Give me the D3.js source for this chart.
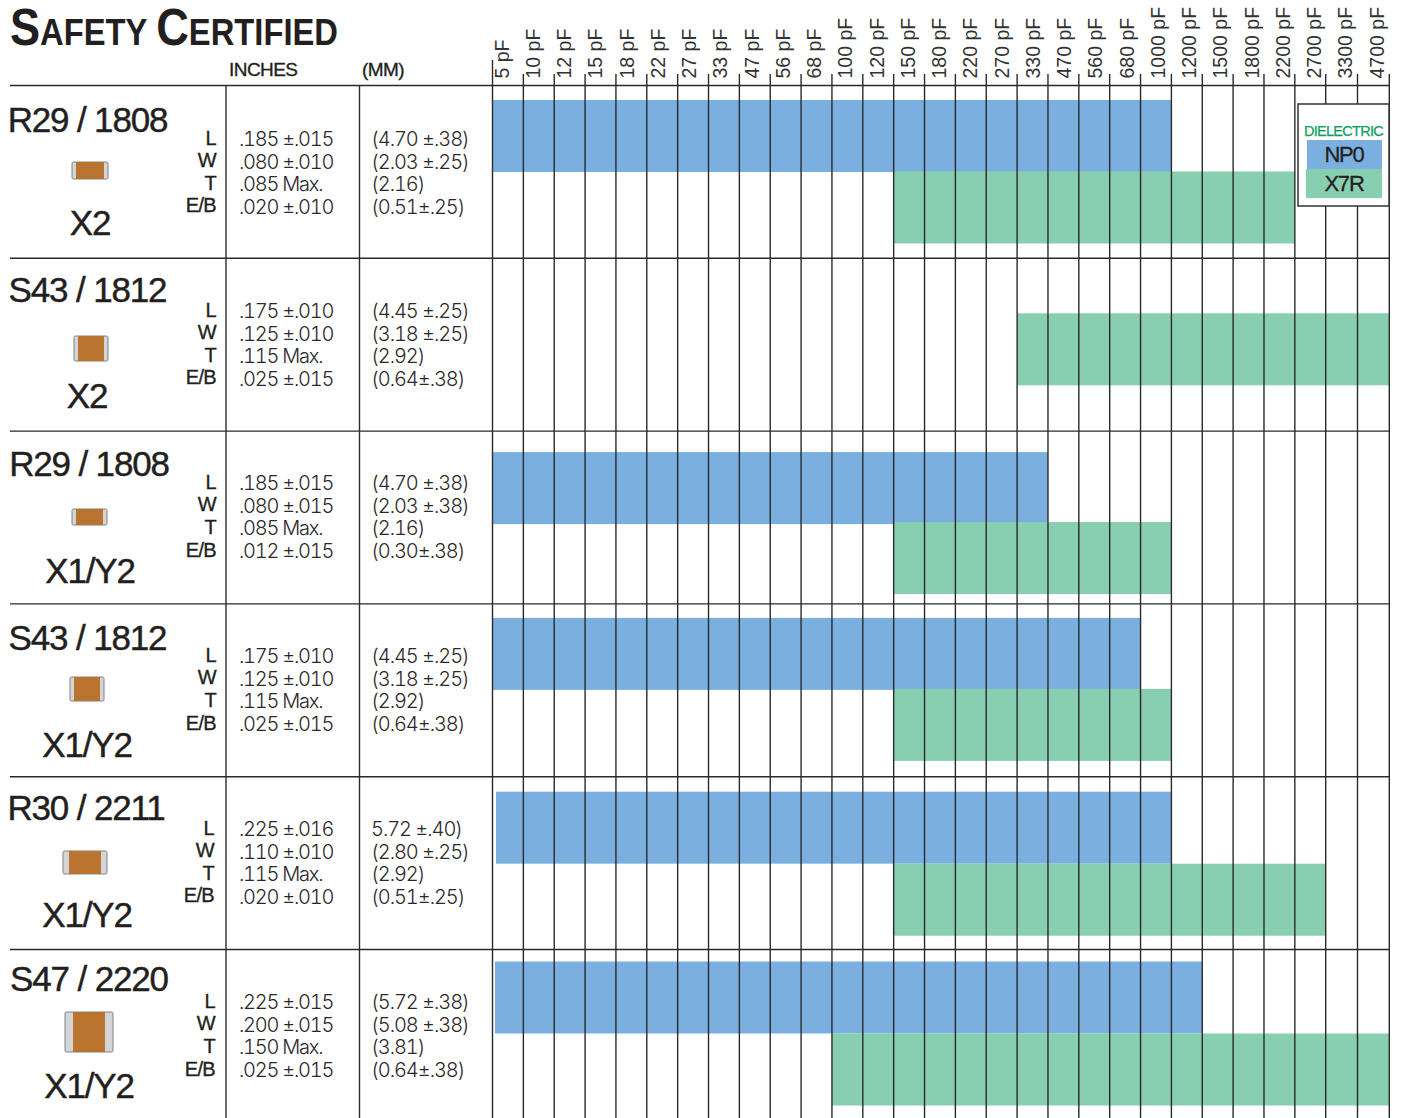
<!DOCTYPE html>
<html>
<head>
<meta charset="utf-8">
<title>Safety Certified</title>
<script src="https://cdn.jsdelivr.net/npm/d3@7"></script>
<style>
  html, body { margin: 0; padding: 0; background: #fff; }
  svg { display: block; }
  text { font-family: "Liberation Sans", Arial, sans-serif; fill: #231f20; }
  .val { font-family: "Inter", "Liberation Sans", sans-serif; font-weight: 300; font-size: 20px; letter-spacing: -1.25px; fill: #2b2829; font-feature-settings: "tnum" 1; }
  .mm { letter-spacing: -1.05px; }
  .dim { font-size: 20px; letter-spacing: -0.7px; text-anchor: end; stroke: #231f20; stroke-width: 0.35px; }
  .big { font-size: 35px; letter-spacing: -1.15px; stroke: #231f20; stroke-width: 0.45px; }
  .head { font-size: 19px; letter-spacing: -0.55px; stroke: #231f20; stroke-width: 0.35px; }
  .rule { stroke: #2a2a2a; stroke-width: 1.4px; }
</style>
</head>
<body>
<div id="chart"></div>
<script>
var categories = ['5 pF', '10 pF', '12 pF', '15 pF', '18 pF', '22 pF', '27 pF', '33 pF', '47 pF', '56 pF',
    '68 pF', '100 pF', '120 pF', '150 pF', '180 pF', '220 pF', '270 pF', '330 pF', '470 pF', '560 pF',
    '680 pF', '1000 pF', '1200 pF', '1500 pF', '1800 pF', '2200 pF', '2700 pF', '3300 pF', '4700 pF'];

var case_sizes = ['R29 / 1808', 'S43 / 1812', 'R29 / 1808', 'S43 / 1812', 'R30 / 2211', 'S47 / 2220'];
var ratings    = ['X2', 'X2', 'X1/Y2', 'X1/Y2', 'X1/Y2', 'X1/Y2'];

// capacitance range per row, [from, to]
var np0_ranges = [['5 pF', '1000 pF'], null, ['5 pF', '330 pF'], ['5 pF', '680 pF'], ['5 pF', '1000 pF'], ['5 pF', '1200 pF']];
var x7r_ranges = [['150 pF', '2200 pF'], ['330 pF', '4700 pF'], ['150 pF', '1000 pF'], ['150 pF', '1000 pF'], ['150 pF', '2700 pF'], ['100 pF', '4700 pF']];

var dim_names = ['L', 'W', 'T', 'E/B'];
var inches = [
    ['.185 ±.015', '.080 ±.010', '.085 Max.', '.020 ±.010'],
    ['.175 ±.010', '.125 ±.010', '.115 Max.', '.025 ±.015'],
    ['.185 ±.015', '.080 ±.015', '.085 Max.', '.012 ±.015'],
    ['.175 ±.010', '.125 ±.010', '.115 Max.', '.025 ±.015'],
    ['.225 ±.016', '.110 ±.010', '.115 Max.', '.020 ±.010'],
    ['.225 ±.015', '.200 ±.015', '.150 Max.', '.025 ±.015']
];
var millimetres = [
    ['(4.70 ±.38)', '(2.03 ±.25)', '(2.16)', '(0.51±.25)'],
    ['(4.45 ±.25)', '(3.18 ±.25)', '(2.92)', '(0.64±.38)'],
    ['(4.70 ±.38)', '(2.03 ±.38)', '(2.16)', '(0.30±.38)'],
    ['(4.45 ±.25)', '(3.18 ±.25)', '(2.92)', '(0.64±.38)'],
    ['5.72 ±.40)', '(2.80 ±.25)', '(2.92)', '(0.51±.25)'],
    ['(5.72 ±.38)', '(5.08 ±.38)', '(3.81)', '(0.64±.38)']
];

var legend_names = ['NP0', 'X7R'];

// layout, one entry per row
var chart_width  = 1401;
var chart_height = 1118;
var np0_offset  = [14.5, 0, 21, 14, 15, 12];
var x7r_offset  = [86, 55, 91, 85, 87, 84];
var np0_inset   = [0, 0, 0, 0, 3.5, 2.5];
var text_base   = [146, 318, 490, 663, 836, 1009];
var text_step   = [22.6, 22.6, 22.7, 22.7, 22.5, 22.7];
var dim_right   = [216, 216, 216, 216, 214, 215];
var label_x     = [87.5, 87.5, 89, 87.5, 86, 89];
var label_base  = [132, 302, 476, 650, 820, 991];
var rating_x    = [90, 87, 90, 87, 87, 89];
var rating_base = [235, 408, 583, 757, 927, 1098];
var chip_boxes  = [[72, 162, 36, 17, 4], [74, 336, 34, 25, 4], [72, 509, 35, 16, 4], [70, 677, 34, 24, 4], [63, 851, 44, 23, 6], [65, 1012, 48, 40, 8]];

var bar_height = 72;
var blue  = '#7aafdf';
var green = '#88ceb0';

var svg = d3.select('#chart')
    .append('svg')
    .attr('width', chart_width)
    .attr('height', chart_height);

// Create scales. The column edges run a bit wider over the last two columns
var edge_scale = d3.scaleLinear()
    .domain([0, 27, 29])
    .range([492.5, 1325.7, 1389.3]);

function left_edge(c) { return edge_scale(categories.indexOf(c)); }
function right_edge(c) { return edge_scale(categories.indexOf(c) + 1); }

// the rotated labels drift against the columns, so they get their own scale
var label_scale = d3.scalePoint()
    .domain(categories)
    .range([508, 1383]);

var y_scale = d3.scaleBand()
    .domain(d3.range(6))
    .range([85.5, 85.5 + 6 * 172.8]);

// Bars
function make_bars(ranges, offsets, color, inset) {
    var bars = [];
    ranges.forEach(function(r, i) {
        if (r) bars.push({from: r[0], to: r[1], row: i, offset: offsets[i], color: color, inset: inset ? inset[i] : 0});
    });
    return bars;
}

var bars = make_bars(np0_ranges, np0_offset, blue, np0_inset)
    .concat(make_bars(x7r_ranges, x7r_offset, green));

svg.append('g').selectAll('rect')
    .data(bars)
    .enter()
    .append('rect')
    .attr('x', function(d) { return left_edge(d.from) + d.inset; })
    .attr('y', function(d) { return y_scale(d.row) + d.offset; })
    .attr('width', function(d) { return right_edge(d.to) - left_edge(d.from) - d.inset; })
    .attr('height', bar_height)
    .attr('fill', function(d) { return d.color; });

// Vertical grid on top of the bars
svg.append('g').selectAll('line')
    .data(d3.range(categories.length + 1))
    .enter()
    .append('line')
    .attr('class', 'rule')
    .attr('x1', function(d) { return edge_scale(d); })
    .attr('x2', function(d) { return edge_scale(d); })
    .attr('y1', function(d) { return d === 0 ? 60 : 74; })
    .attr('y2', chart_height);

// Table rules
svg.append('g').selectAll('line')
    .data(d3.range(6))
    .enter()
    .append('line')
    .attr('class', 'rule')
    .attr('x1', 10)
    .attr('x2', 1389)
    .attr('y1', function(d) { return y_scale(d); })
    .attr('y2', function(d) { return y_scale(d); });

[226, 359.5].forEach(function(x) {
    svg.append('line')
        .attr('class', 'rule')
        .attr('x1', x).attr('x2', x)
        .attr('y1', 85).attr('y2', chart_height);
});

// Category axis across the top
var x_axis = d3.axisTop(label_scale).tickSize(0);
var axis_g = svg.append('g')
    .attr('transform', 'translate(0,78.5)')
    .call(x_axis);
axis_g.select('.domain').remove();
axis_g.selectAll('text')
    .attr('x', 0)
    .attr('y', 0)
    .attr('dy', 0)
    .attr('text-anchor', 'start')
    .attr('transform', 'rotate(-90)')
    .style('font-family', '"Liberation Sans", Arial, sans-serif')
    .style('font-size', '19.5px')
    .style('fill', '#333');

// Title and column heads
var title = svg.append('text')
    .attr('x', 10)
    .attr('y', 45)
    .attr('textLength', 328)
    .attr('lengthAdjust', 'spacingAndGlyphs')
    .style('font-weight', 'bold');
[['S', 51], ['AFETY', 37], ['C', 51], ['ERTIFIED', 37]].forEach(function(p, i) {
    title.append('tspan')
        .attr('dx', i === 2 ? 10 : null)
        .style('font-size', p[1] + 'px')
        .text(p[0]);
});

svg.append('text').attr('class', 'head').attr('x', 229).attr('y', 76).text('INCHES');
svg.append('text').attr('class', 'head').attr('x', 362).attr('y', 76).text('(MM)');

// Rows
case_sizes.forEach(function(name, i) {
    var row = svg.append('g');

    row.append('text').attr('class', 'big')
        .attr('x', label_x[i]).attr('y', label_base[i])
        .attr('text-anchor', 'middle').text(name);
    row.append('text').attr('class', 'big')
        .attr('x', rating_x[i]).attr('y', rating_base[i])
        .attr('text-anchor', 'middle').text(ratings[i]);

    // chip picture
    var c = chip_boxes[i];
    row.append('rect')
        .attr('x', c[0]).attr('y', c[1]).attr('width', c[2]).attr('height', c[3]).attr('rx', 1.5)
        .attr('fill', '#d3d5d6').attr('stroke', '#808285').attr('stroke-width', 1);
    row.append('rect')
        .attr('x', c[0] + c[4]).attr('y', c[1]).attr('width', c[2] - 2 * c[4]).attr('height', c[3])
        .attr('fill', '#b9752f');

    dim_names.forEach(function(dim, j) {
        var base = text_base[i] + j * text_step[i];
        row.append('text').attr('class', 'dim')
            .attr('x', dim_right[i]).attr('y', base - 1.5).text(dim);
        row.append('text').attr('class', 'val')
            .attr('x', 239).attr('y', base).text(inches[i][j]);
        row.append('text').attr('class', 'val mm')
            .attr('x', 371).attr('y', base).text(millimetres[i][j]);
    });
});

// Legend
var legend = svg.append('g');
legend.append('rect')
    .attr('x', 1298).attr('y', 104).attr('width', 91).attr('height', 102)
    .attr('fill', '#fff').attr('stroke', '#333').attr('stroke-width', 1.5);
legend.append('text')
    .attr('x', 1343.5).attr('y', 136)
    .attr('text-anchor', 'middle')
    .style('font-size', '14.5px')
    .style('letter-spacing', '-0.7px')
    .style('stroke', '#0e9f62')
    .style('stroke-width', '0.25px')
    .style('fill', '#0e9f62')
    .text('DIELECTRIC');
legend_names.forEach(function(name, i) {
    legend.append('rect')
        .attr('x', 1307 - i).attr('y', 140 + i * 29).attr('width', 75 + i).attr('height', 29)
        .attr('fill', i === 0 ? blue : green);
    legend.append('text')
        .attr('x', 1344).attr('y', 162 + i * 29)
        .attr('text-anchor', 'middle')
        .style('font-size', '22px')
        .style('letter-spacing', '-1.2px')
        .style('stroke', '#231f20')
        .style('stroke-width', '0.3px')
        .text(name);
});
</script>
</body>
</html>
